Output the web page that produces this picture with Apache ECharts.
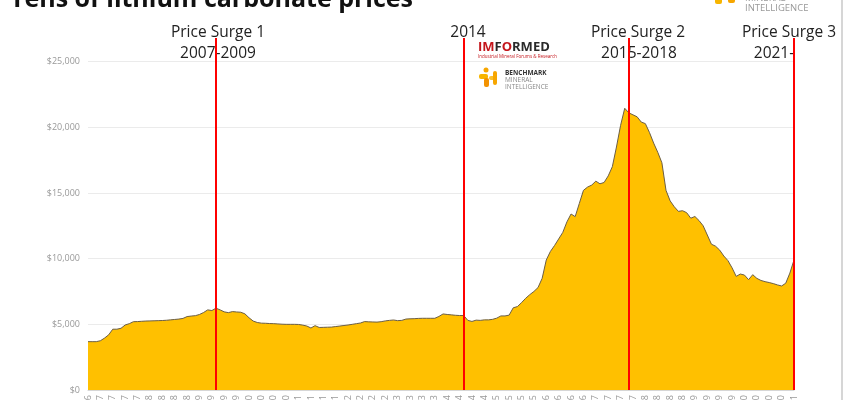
<!DOCTYPE html>
<html>
<head>
<meta charset="utf-8">
<script src="https://cdn.jsdelivr.net/npm/echarts@6/dist/echarts.min.js"></script>
<style>html,body{margin:0;padding:0;background:#fff;}#c{width:846px;height:400px;}</style>
</head>
<body>
<div id="c"></div>
<script>
// ---- data ----
const monthNames = ['Jan','Feb','Mar','Apr','May','Jun','Jul','Aug','Sep','Oct','Nov','Dec'];
const startYear = 2006, startMonth = 11; // Dec-06
const prices = [
 3680,3680,3680,3750,3950,4200,4630,4630,4700,4950,5050,5200,
 5210,5230,5250,5260,5270,5280,5290,5310,5340,5370,5400,5450,
 5590,5630,5660,5750,5900,6100,6050,6230,6100,5950,5890,5970,
 5940,5920,5800,5500,5250,5140,5090,5080,5060,5050,5030,5010,
 5000,5000,5000,4990,4940,4870,4720,4900,4760,4770,4780,4790,
 4830,4870,4910,4950,5000,5050,5100,5210,5190,5180,5170,5200,
 5260,5300,5330,5280,5300,5400,5420,5430,5450,5460,5460,5460,
 5460,5600,5790,5750,5720,5690,5670,5670,5300,5220,5320,5300,
 5340,5340,5380,5470,5640,5640,5700,6260,6350,6650,6980,7260,
 7500,7800,8500,9900,10550,11000,11500,12000,12800,13400,13200,14200,
 15200,15450,15600,15900,15700,15800,16300,17000,18500,20150,21450,21100,
 20950,20800,20400,20280,19600,18800,18100,17300,15200,14400,13950,13600,
 13650,13500,13080,13210,12900,12500,11800,11100,10950,10650,10200,9850,
 9300,8650,8830,8750,8400,8780,8500,8340,8250,8180,8100,8000,
 7920,8130,8900,9900
];
const categories = prices.map((_, i) => {
  const m = (startMonth + i) % 12;
  const y = startYear + Math.floor((startMonth + i) / 12);
  return monthNames[m] + '-' + String(y).slice(2);
});
const surgeLines = ['Jul-09', 'Jul-14', 'Nov-17', 'Mar-21'];
const yTicks = [0, 5000, 10000, 15000, 20000, 25000];

const FONT = "'Open Sans', sans-serif";
const chart = echarts.init(document.getElementById('c'), null, {renderer: 'canvas'});
chart.setOption({
  animation: false,
  backgroundColor: '#fff',
  grid: {left: 88, right: 52, top: 38, bottom: 10, containLabel: false, outerBoundsMode: 'none'},
  xAxis: {
    type: 'category', data: categories, boundaryGap: false,
    axisLine: {show: true, lineStyle: {color: '#d6d6d6'}},
    axisTick: {show: false},
    axisLabel: {interval: 2, rotate: 90, fontSize: 9, color: '#999', margin: 5, fontFamily: FONT}
  },
  yAxis: {
    type: 'value', min: 0, max: 26800, interval: 5000,
    axisLine: {show: false}, axisTick: {show: false},
    splitLine: {show: true, showMaxLine: false, lineStyle: {color: '#ebebeb', width: 1}},
    axisLabel: {
      fontSize: 9, color: '#999', margin: 8, fontFamily: FONT, showMaxLabel: false,
      formatter: v => yTicks.includes(v) ? '$' + v.toLocaleString('en-US') : ''
    }
  },
  series: [{
    type: 'line', data: prices, symbol: 'none', smooth: false,
    lineStyle: {color: '#6b5e45', width: 1},
    areaStyle: {color: '#FFC000', opacity: 1},
    markLine: {
      silent: true, symbol: 'none', animation: false,
      label: {show: false},
      lineStyle: {color: '#ff0000', width: 2, type: 'solid'},
      data: surgeLines.map(c => ({xAxis: c}))
    }
  }],
  graphic: [
    {type: 'text', left: 10, top: -13, z: 10, style: {text: 'Tens of lithium carbonate prices', font: "bold 25px 'Open Sans', sans-serif", fill: '#111'}},
    {type: 'text', x: 218, y: 33, style: {text: 'Price Surge 1', font: "15.5px 'Open Sans', sans-serif", fill: '#222', align: 'center', verticalAlign: 'middle'}},
    {type: 'text', x: 218, y: 54, style: {text: '2007-2009', font: "15.5px 'Open Sans', sans-serif", fill: '#222', align: 'center', verticalAlign: 'middle'}},
    {type: 'text', x: 468, y: 33, style: {text: '2014', font: "15.5px 'Open Sans', sans-serif", fill: '#222', align: 'center', verticalAlign: 'middle'}},
    {type: 'text', x: 638, y: 33, style: {text: 'Price Surge 2', font: "15.5px 'Open Sans', sans-serif", fill: '#222', align: 'center', verticalAlign: 'middle'}},
    {type: 'text', x: 639, y: 54, style: {text: '2015-2018', font: "15.5px 'Open Sans', sans-serif", fill: '#222', align: 'center', verticalAlign: 'middle'}},
    {type: 'text', x: 789, y: 33, style: {text: 'Price Surge 3', font: "15.5px 'Open Sans', sans-serif", fill: '#222', align: 'center', verticalAlign: 'middle'}},
    {type: 'text', x: 774, y: 54, style: {text: '2021-', font: "15.5px 'Open Sans', sans-serif", fill: '#222', align: 'center', verticalAlign: 'middle'}},
    // IMFORMED logo
    {type: 'text', x: 478, y: 47, style: {
      text: '{r|IM}{k|F}{r|O}{k|RMED}', verticalAlign: 'middle',
      rich: {
        r: {fontSize: 13, fontWeight: 'bold', fill: '#c4161c', fontFamily: FONT},
        k: {fontSize: 13, fontWeight: 'bold', fill: '#2a2a2a', fontFamily: FONT}
      }}},
    {type: 'text', x: 478, y: 57, style: {text: 'Industrial Mineral Forums & Research', font: "4.5px 'Open Sans', sans-serif", fill: '#c4161c', verticalAlign: 'middle'}},
    // Benchmark logo
    {type: 'circle', shape: {cx: 486, cy: 70, r: 2.5}, style: {fill: '#f7a600'}},
    {type: 'rect', shape: {x: 479, y: 74, width: 9, height: 5, r: 2}, style: {fill: '#f7b500'}},
    {type: 'rect', shape: {x: 484, y: 78, width: 5, height: 9, r: 2}, style: {fill: '#f39200'}},
    {type: 'rect', shape: {x: 489, y: 76, width: 7, height: 4, r: 2}, style: {fill: '#fbc02d'}},
    {type: 'rect', shape: {x: 493, y: 71, width: 4, height: 14, r: 2}, style: {fill: '#f7a600'}},
    {type: 'text', x: 505, y: 73, style: {text: 'BENCHMARK', font: "bold 6.5px 'Open Sans', sans-serif", fill: '#333', verticalAlign: 'middle'}},
    {type: 'text', x: 505, y: 80, style: {text: 'MINERAL', font: "6.5px 'Open Sans', sans-serif", fill: '#888', verticalAlign: 'middle'}},
    {type: 'text', x: 505, y: 87, style: {text: 'INTELLIGENCE', font: "6.5px 'Open Sans', sans-serif", fill: '#888', verticalAlign: 'middle'}},
    // top-right logo (cut off)
    {type: 'rect', shape: {x: 715, y: -4, width: 7, height: 8, r: 2}, style: {fill: '#f7b500'}},
    {type: 'rect', shape: {x: 728, y: -4, width: 7, height: 7, r: 2}, style: {fill: '#f7a600'}},
    {type: 'text', x: 745, y: -2, style: {text: 'MINERAL', font: "9.5px 'Open Sans', sans-serif", fill: '#999', verticalAlign: 'middle'}},
    {type: 'text', x: 745, y: 8, style: {text: 'INTELLIGENCE', font: "9.5px 'Open Sans', sans-serif", fill: '#999', verticalAlign: 'middle'}},
    // slide border on the right
    {type: 'line', shape: {x1: 842, y1: 0, x2: 842, y2: 400}, style: {stroke: '#c8c8c8', lineWidth: 1.5}}
  ]
});
</script>
</body>
</html>
